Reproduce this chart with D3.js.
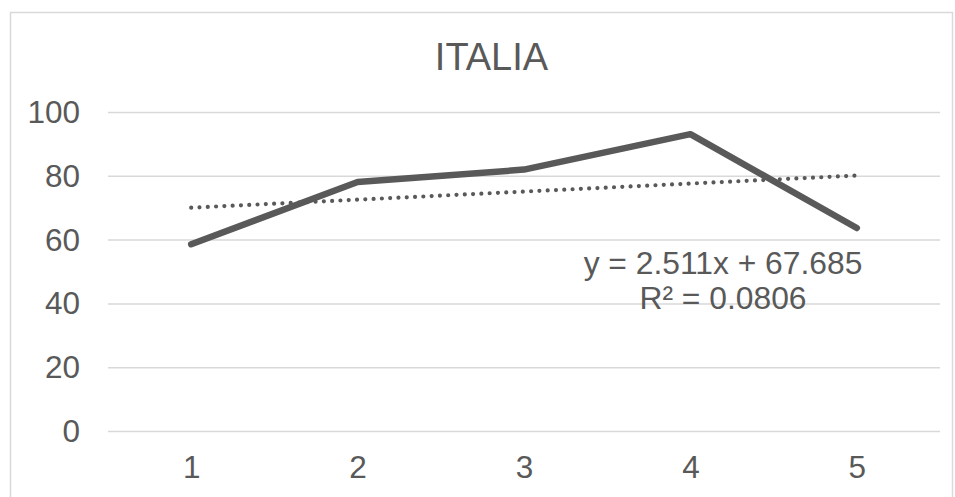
<!DOCTYPE html>
<html>
<head>
<meta charset="utf-8">
<script src="https://cdn.jsdelivr.net/npm/d3@7"></script>
<style>
  html, body { margin: 0; padding: 0; background: #fff; }
  svg { display: block; font-family: "Liberation Sans", Arial, sans-serif; }
</style>
</head>
<body>
<svg id="chart" width="955" height="497"></svg>
<script>
const title = "ITALIA";
const categories = [1, 2, 3, 4, 5];
const values = [58.7, 78.2, 82.1, 93.2, 63.8];
const yTicks = [0, 20, 40, 60, 80, 100];
const trendLabel = ["y = 2.511x + 67.685", "R\u00B2 = 0.0806"];

const svg = d3.select("#chart");
const plot = { left: 108, right: 940, top: 112.5, bottom: 431.5 };
const textColor = "#595959";
const gridColor = "#d9d9d9";
const lineColor = "#595959";

// chart border
svg.append("rect")
  .attr("x", 10.5).attr("y", 12.5)
  .attr("width", 942).attr("height", 520)
  .attr("fill", "none").attr("stroke", gridColor).attr("stroke-width", 1.5);

const x = d3.scalePoint().domain(categories).range([plot.left, plot.right]).padding(0.5);
const y = d3.scaleLinear().domain([0, 100]).range([plot.bottom, plot.top]);

// gridlines
svg.append("g").selectAll("line").data(yTicks).join("line")
  .attr("x1", plot.left).attr("x2", plot.right)
  .attr("y1", d => y(d)).attr("y2", d => y(d))
  .attr("stroke", gridColor).attr("stroke-width", 1.5);

// y axis labels
const yAxis = d3.axisLeft(y).tickValues(yTicks).tickSize(0).tickPadding(0);
const gy = svg.append("g").attr("transform", `translate(80,0)`).call(yAxis);
gy.select(".domain").remove();
gy.selectAll("text").attr("fill", textColor).attr("font-size", 31.5)
  .attr("font-family", "Liberation Sans, Arial, sans-serif");

// x axis labels
const xAxis = d3.axisBottom(x).tickSize(0).tickPadding(0);
const gx = svg.append("g").attr("transform", `translate(0,456)`).call(xAxis);
gx.select(".domain").remove();
gx.selectAll("text").attr("fill", textColor).attr("font-size", 31.5)
  .attr("font-family", "Liberation Sans, Arial, sans-serif");

// title
svg.append("text").attr("x", 491.5).attr("y", 69.5)
  .attr("text-anchor", "middle").attr("fill", textColor)
  .attr("font-size", 38).text(title);

// linear regression trendline
const n = categories.length;
const mx = d3.mean(categories), my = d3.mean(values);
let sxy = 0, sxx = 0;
categories.forEach((c, i) => { sxy += (c - mx) * (values[i] - my); sxx += (c - mx) ** 2; });
const slope = sxy / sxx, intercept = my - slope * mx;
const x0 = categories[0], x1 = categories[n - 1];
svg.append("line")
  .attr("x1", x(x0)).attr("y1", y(slope * x0 + intercept))
  .attr("x2", x(x1)).attr("y2", y(slope * x1 + intercept))
  .attr("stroke", lineColor).attr("stroke-width", 4.2)
  .attr("stroke-linecap", "round").attr("stroke-dasharray", "0 8.3");

// data line
const line = d3.line().x((d, i) => x(categories[i])).y(d => y(d));
svg.append("path").datum(values)
  .attr("d", line).attr("fill", "none")
  .attr("stroke", lineColor).attr("stroke-width", 6.5)
  .attr("stroke-linecap", "round").attr("stroke-linejoin", "round");

// trendline label
const lbl = svg.append("text").attr("text-anchor", "middle").attr("fill", textColor).attr("font-size", 31.8);
trendLabel.forEach((t, i) => {
  lbl.append("tspan").attr("x", 723).attr("y", 274 + i * 34.5).text(t);
});
</script>
</body>
</html>
